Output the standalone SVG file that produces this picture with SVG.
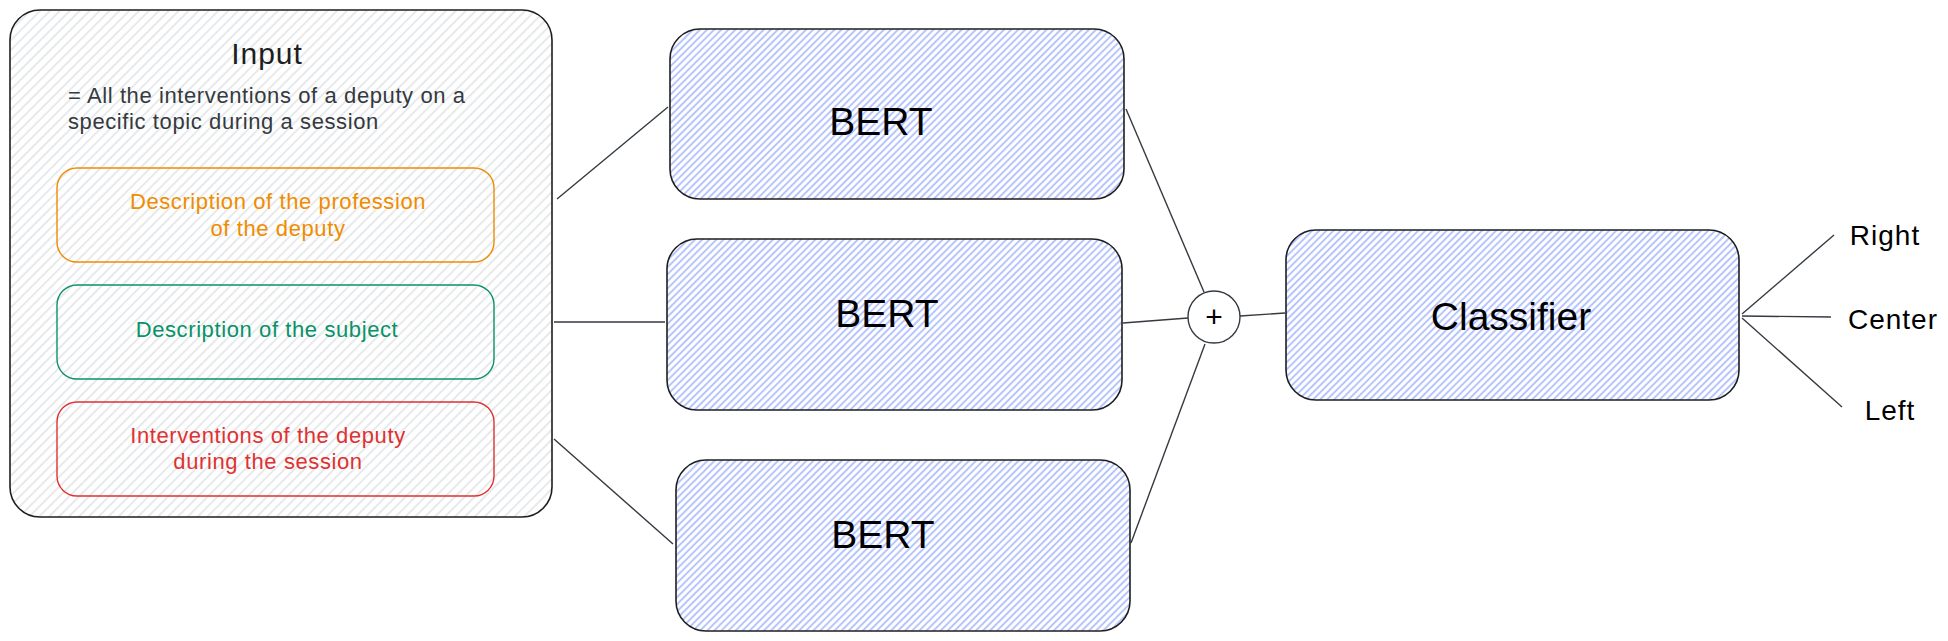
<svg xmlns="http://www.w3.org/2000/svg" width="1948" height="641" viewBox="0 0 1948 641">
  <defs>
    <pattern id="hatchBlue" patternUnits="userSpaceOnUse" width="5" height="5" patternTransform="rotate(45)">
      <rect width="5" height="5" fill="#ffffff"/>
      <line x1="1" y1="0" x2="1" y2="5" stroke="#91a7ff" stroke-width="1.3"/>
    </pattern>
    <pattern id="hatchGray" patternUnits="userSpaceOnUse" width="7" height="7" patternTransform="rotate(45)">
      <rect width="7" height="7" fill="#ffffff"/>
      <line x1="1" y1="0" x2="1" y2="7" stroke="#d0d3d7" stroke-width="1"/>
    </pattern>
    <style>
      .txt { font-family: "Liberation Sans", Arial, sans-serif; }
      .big { font-size: 39px; fill: #000000; }
      .body { font-size: 22px; letter-spacing: 0.6px; }
      .lbl { font-size: 28px; letter-spacing: 1px; fill: #000000; }
      .box { stroke: #1e1e1e; stroke-width: 1.6; }
      .conn line { stroke: #343a40; stroke-width: 1.4; }
    </style>
  </defs>
  <rect width="1948" height="641" fill="#ffffff"/>

  <g id="input">
    <rect class="box" x="10" y="10" width="542" height="507" rx="30" fill="url(#hatchGray)"/>
    <text class="txt" x="267" y="64" font-size="30" letter-spacing="1" text-anchor="middle" fill="#1e1e1e">Input</text>
    <text class="txt body" x="68" y="103" fill="#343a40">= All the interventions of a deputy on a</text>
    <text class="txt body" x="68" y="129" fill="#343a40">specific topic during a session</text>
  </g>

  <g id="profession">
    <rect x="57" y="168" width="437" height="94" rx="20" fill="none" stroke="#f08c00" stroke-width="1.4"/>
    <text class="txt body" x="278" y="209" text-anchor="middle" fill="#f08c00">Description of the profession</text>
    <text class="txt body" x="278" y="236" text-anchor="middle" fill="#f08c00">of the deputy</text>
  </g>

  <g id="subject">
    <rect x="57" y="285" width="437" height="94" rx="20" fill="none" stroke="#099268" stroke-width="1.4"/>
    <text class="txt body" x="267" y="337" text-anchor="middle" fill="#099268">Description of the subject</text>
  </g>

  <g id="interventions">
    <rect x="57" y="402" width="437" height="94" rx="20" fill="none" stroke="#e03131" stroke-width="1.4"/>
    <text class="txt body" x="268" y="443" text-anchor="middle" fill="#e03131">Interventions of the deputy</text>
    <text class="txt body" x="268" y="469" text-anchor="middle" fill="#e03131">during the session</text>
  </g>

  <g id="connectors" class="conn">
    <line x1="557" y1="199" x2="668" y2="107"/>
    <line x1="554" y1="322" x2="665" y2="322"/>
    <line x1="554" y1="439" x2="673" y2="544"/>
    <line x1="1126" y1="109" x2="1204" y2="292"/>
    <line x1="1123" y1="323" x2="1188" y2="318"/>
    <line x1="1131" y1="543" x2="1205" y2="344"/>
    <line x1="1240" y1="316" x2="1285" y2="313"/>
    <line x1="1742" y1="314" x2="1834" y2="235"/>
    <line x1="1742" y1="316" x2="1831" y2="317"/>
    <line x1="1742" y1="318" x2="1842" y2="407"/>
  </g>

  <g id="bert1">
    <rect class="box" x="670" y="29" width="454" height="170" rx="30" fill="url(#hatchBlue)"/>
    <text class="txt big" x="881" y="135" text-anchor="middle">BERT</text>
  </g>

  <g id="bert2">
    <rect class="box" x="667" y="239" width="455" height="171" rx="30" fill="url(#hatchBlue)"/>
    <text class="txt big" x="887" y="327" text-anchor="middle">BERT</text>
  </g>

  <g id="bert3">
    <rect class="box" x="676" y="460" width="454" height="171" rx="30" fill="url(#hatchBlue)"/>
    <text class="txt big" x="883" y="548" text-anchor="middle">BERT</text>
  </g>

  <g id="plus">
    <circle cx="1214" cy="317" r="26" fill="#ffffff" stroke="#343a40" stroke-width="1.4"/>
    <text class="txt" x="1214" y="327" font-size="30" text-anchor="middle" fill="#000000">+</text>
  </g>

  <g id="classifier">
    <rect class="box" x="1286" y="230" width="453" height="170" rx="30" fill="url(#hatchBlue)"/>
    <text class="txt big" x="1511" y="330" text-anchor="middle">Classifier</text>
  </g>

  <g id="labels">
    <text class="txt lbl" x="1885" y="245" text-anchor="middle">Right</text>
    <text class="txt lbl" x="1893" y="329" text-anchor="middle">Center</text>
    <text class="txt lbl" x="1890" y="420" text-anchor="middle">Left</text>
  </g>
</svg>
